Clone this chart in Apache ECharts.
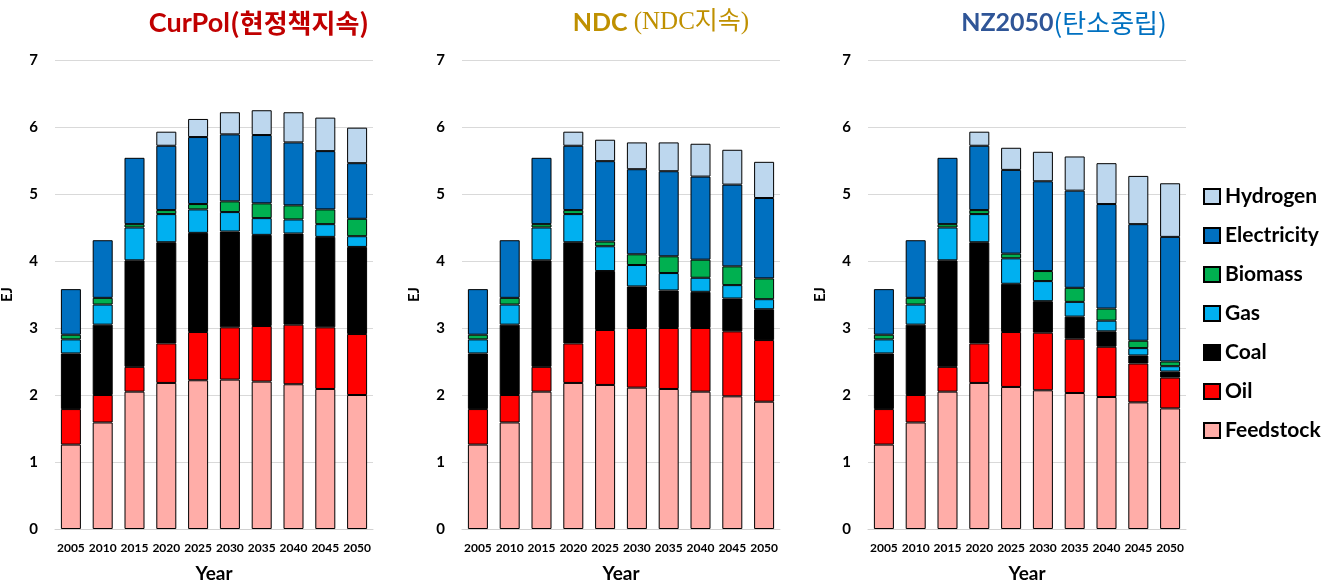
<!DOCTYPE html>
<html>
<head>
<meta charset="utf-8">
<script src="https://cdn.jsdelivr.net/npm/echarts@6/dist/echarts.min.js"></script>
<style>
html,body{margin:0;padding:0;background:#fff;}
#c{width:1337px;height:585px;}
</style>
</head>
<body>
<div id="c"></div>
<script>
var years = ['2005','2010','2015','2020','2025','2030','2035','2040','2045','2050'];
var yTicks = [0,1,2,3,4,5,6,7];
var seriesNames = ['Feedstock','Oil','Coal','Gas','Biomass','Electricity','Hydrogen'];

// CurPol
var curFeedstock   = [1.26, 1.59, 2.05, 2.18, 2.22, 2.23, 2.20, 2.16, 2.09, 2.00];
var curOil         = [0.53, 0.41, 0.37, 0.59, 0.72, 0.78, 0.83, 0.89, 0.92, 0.91];
var curCoal        = [0.83, 1.05, 1.59, 1.51, 1.48, 1.43, 1.36, 1.36, 1.35, 1.30];
var curGas         = [0.21, 0.30, 0.49, 0.42, 0.35, 0.29, 0.25, 0.21, 0.19, 0.16];
var curBiomass     = [0.07, 0.10, 0.05, 0.06, 0.08, 0.16, 0.22, 0.21, 0.22, 0.26];
var curElectricity = [0.68, 0.86, 0.99, 0.96, 1.00, 1.00, 1.02, 0.94, 0.87, 0.83];
var curHydrogen    = [0, 0, 0, 0.21, 0.27, 0.33, 0.37, 0.45, 0.50, 0.53];

// NDC
var ndcFeedstock   = [1.26, 1.59, 2.05, 2.18, 2.15, 2.11, 2.09, 2.05, 1.98, 1.90];
var ndcOil         = [0.53, 0.41, 0.37, 0.59, 0.82, 0.89, 0.91, 0.95, 0.97, 0.92];
var ndcCoal        = [0.83, 1.05, 1.59, 1.51, 0.88, 0.62, 0.56, 0.54, 0.49, 0.46];
var ndcGas         = [0.21, 0.30, 0.49, 0.42, 0.37, 0.32, 0.26, 0.21, 0.20, 0.15];
var ndcBiomass     = [0.07, 0.10, 0.05, 0.06, 0.07, 0.16, 0.25, 0.27, 0.28, 0.31];
var ndcElectricity = [0.68, 0.86, 0.99, 0.96, 1.20, 1.27, 1.27, 1.24, 1.22, 1.20];
var ndcHydrogen    = [0, 0, 0, 0.21, 0.32, 0.40, 0.43, 0.49, 0.52, 0.54];

// NZ2050
var nzFeedstock   = [1.26, 1.59, 2.05, 2.18, 2.12, 2.07, 2.03, 1.97, 1.89, 1.80];
var nzOil         = [0.53, 0.41, 0.37, 0.59, 0.82, 0.86, 0.81, 0.75, 0.58, 0.46];
var nzCoal        = [0.83, 1.05, 1.59, 1.51, 0.72, 0.47, 0.33, 0.23, 0.12, 0.09];
var nzGas         = [0.21, 0.30, 0.49, 0.42, 0.38, 0.30, 0.22, 0.16, 0.11, 0.08];
var nzBiomass     = [0.07, 0.10, 0.05, 0.06, 0.07, 0.15, 0.21, 0.18, 0.11, 0.07];
var nzElectricity = [0.68, 0.86, 0.99, 0.96, 1.25, 1.34, 1.45, 1.56, 1.74, 1.86];
var nzHydrogen    = [0, 0, 0, 0.21, 0.33, 0.44, 0.51, 0.61, 0.72, 0.80];

var colors = {
  Feedstock: '#FFADA8',
  Oil: '#FF0000',
  Coal: '#000000',
  Gas: '#00B0F0',
  Biomass: '#00B050',
  Electricity: '#0070C0',
  Hydrogen: '#BDD7EE'
};

var panels = [
  [curFeedstock, curOil, curCoal, curGas, curBiomass, curElectricity, curHydrogen],
  [ndcFeedstock, ndcOil, ndcCoal, ndcGas, ndcBiomass, ndcElectricity, ndcHydrogen],
  [nzFeedstock, nzOil, nzCoal, nzGas, nzBiomass, nzElectricity, nzHydrogen]
];

var FONT = 'Lato, "Noto Sans CJK KR", sans-serif';
var gridLefts = [55, 462, 868];

var grids = [], xAxes = [], yAxes = [], series = [];
gridLefts.forEach(function (l, i) {
  grids.push({left: l, width: 318, top: 60, bottom: 56, containLabel: false, outerBoundsMode: 'none'});
  xAxes.push({
    type: 'category', gridIndex: i, data: years,
    axisTick: {show: false},
    axisLine: {show: true, lineStyle: {color: '#D0D0D0', width: 1}},
    axisLabel: {interval: 0, color: '#000', fontFamily: FONT, fontWeight: 'bold', fontSize: 12, margin: 13},
    name: 'Year', nameLocation: 'middle', nameGap: 35,
    nameTextStyle: {color: '#000', fontFamily: FONT, fontWeight: 'bold', fontSize: 19}
  });
  yAxes.push({
    type: 'value', gridIndex: i, min: 0, max: 7, interval: 1,
    axisLine: {show: false}, axisTick: {show: false},
    splitLine: {lineStyle: {color: '#D9D9D9', width: 1}},
    axisLabel: {color: '#000', fontFamily: FONT, fontWeight: 'bold', fontSize: 15, margin: 17},
    name: 'EJ', nameLocation: 'middle', nameRotate: 90, nameGap: 40,
    nameTextStyle: {color: '#000', fontFamily: FONT, fontWeight: 'bold', fontSize: 15}
  });
  panels[i].forEach(function (arr, k) {
    var nm = seriesNames[k];
    series.push({
      name: nm, type: 'bar', stack: 'p' + i,
      xAxisIndex: i, yAxisIndex: i,
      barWidth: 20,
      data: arr.map(function (v) { return v === 0 ? '-' : v; }),
      itemStyle: {color: colors[nm], borderColor: '#000', borderWidth: 1},
      emphasis: {disabled: true}
    });
  });
});

var chart = echarts.init(document.getElementById('c'));
chart.setOption({
  animation: false,
  backgroundColor: '#fff',
  title: [
    {text: '{a|CurPol}{b|(현정책지속)}', left: 254, top: 5, textAlign: 'center',
     textStyle: {rich: {
       a: {fontFamily: FONT, fontWeight: 'bold', fontSize: 27, color: '#C00000'},
       b: {fontFamily: '"Noto Sans CJK KR", sans-serif', fontWeight: 'bold', fontSize: 26, color: '#C00000'}
     }}},
    {text: '{a|NDC }{b|(NDC지속)}', left: 656, top: 5, textAlign: 'center',
     textStyle: {rich: {
       a: {fontFamily: FONT, fontWeight: 'bold', fontSize: 25, color: '#BF9000'},
       b: {fontFamily: '"Liberation Serif", "Noto Sans CJK KR", serif', fontWeight: 'normal', fontSize: 25, color: '#BF9000'}
     }}},
    {text: '{a|NZ2050}{b|(탄소중립)}', left: 1059, top: 5, textAlign: 'center',
     textStyle: {rich: {
       a: {fontFamily: FONT, fontWeight: 'bold', fontSize: 25, color: '#2F5597'},
       b: {fontFamily: '"Noto Sans CJK KR", sans-serif', fontWeight: 'normal', fontSize: 26, color: '#0070C0'}
     }}}
  ],
  legend: {
    orient: 'vertical', left: 1198, top: 181,
    itemWidth: 16, itemHeight: 15, itemGap: 18,
    icon: 'rect',
    data: ['Hydrogen','Electricity','Biomass','Gas','Coal','Oil','Feedstock'],
    textStyle: {color: '#000', fontFamily: FONT, fontWeight: 'bold', fontSize: 21, padding: [0,0,0,0]}
  },
  grid: grids,
  xAxis: xAxes,
  yAxis: yAxes,
  series: series
});
</script>
</body>
</html>
